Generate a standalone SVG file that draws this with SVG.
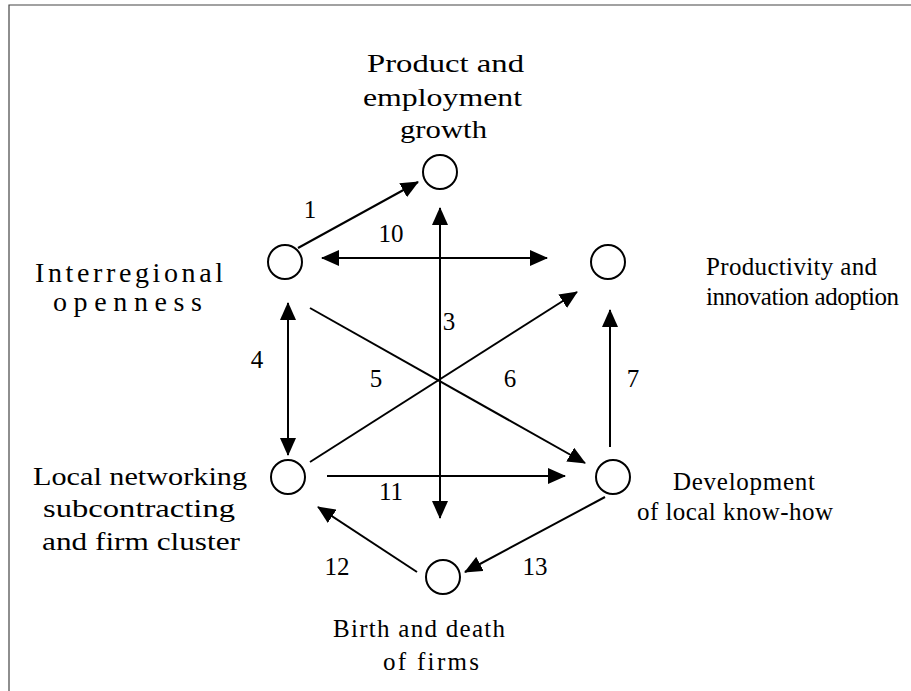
<svg xmlns="http://www.w3.org/2000/svg" width="911" height="691" viewBox="0 0 911 691">
  <style>
    .node circle { fill: #ffffff; stroke: #000000; stroke-width: 2; }
    .lbl { font-family: "Liberation Serif", "Times New Roman", serif; font-size: 25px; fill: #000000; }
    .wide { font-size: 26px; }
    .big { font-size: 28px; }
    .num { font-family: "Liberation Serif", "Times New Roman", serif; font-size: 25px; fill: #000000; text-anchor: middle; }
    .conn line { stroke: #000000; stroke-width: 2; fill: none; }
    .frame { stroke: #444444; stroke-width: 1.2; fill: none; }
  </style>
  <defs>
    <marker id="ah" markerUnits="userSpaceOnUse" markerWidth="18" markerHeight="16" refX="17" refY="8" orient="auto-start-reverse">
      <path d="M0,0 L18,8 L0,16 z" fill="#000000"/>
    </marker>
  </defs>
  <rect width="911" height="691" fill="#ffffff"/>
  <path class="frame" d="M9,691 L9,5 L911,5"/>

  <g id="connectors" class="conn">
    <line id="c1" x1="298" y1="248" x2="418" y2="182" marker-end="url(#ah)"/>
    <line id="c10" x1="322" y1="258" x2="547" y2="258" marker-start="url(#ah)" marker-end="url(#ah)"/>
    <line id="c3" x1="440" y1="208" x2="440" y2="518" marker-start="url(#ah)" marker-end="url(#ah)"/>
    <line id="c4" x1="288" y1="303" x2="288" y2="455" marker-start="url(#ah)" marker-end="url(#ah)"/>
    <line id="c5" x1="310" y1="462" x2="577" y2="292" marker-end="url(#ah)"/>
    <line id="c6" x1="310" y1="308" x2="585" y2="463" marker-end="url(#ah)"/>
    <line id="c7" x1="610" y1="447" x2="610" y2="310" marker-end="url(#ah)"/>
    <line id="c11" x1="327" y1="476" x2="565" y2="476" marker-end="url(#ah)"/>
    <line id="c12" x1="417" y1="572" x2="318" y2="507" marker-end="url(#ah)"/>
    <line id="c13" x1="605" y1="497" x2="465" y2="572" marker-end="url(#ah)"/>
    <text class="num" x="310" y="218">1</text>
    <text class="num" x="391" y="242">10</text>
    <text class="num" x="449" y="330">3</text>
    <text class="num" x="257" y="368">4</text>
    <text class="num" x="376" y="387">5</text>
    <text class="num" x="510" y="387">6</text>
    <text class="num" x="633" y="387">7</text>
    <text class="num" x="391" y="500">11</text>
    <text class="num" x="337" y="575">12</text>
    <text class="num" x="535" y="575">13</text>
  </g>

  <g id="n-product" class="node">
    <circle cx="440" cy="172" r="17"/>
    <text class="lbl wide" x="367" y="72" textLength="157" lengthAdjust="spacingAndGlyphs">Product  and</text>
    <text class="lbl wide" x="363" y="106" textLength="159" lengthAdjust="spacingAndGlyphs">employment</text>
    <text class="lbl wide" x="400" y="138" textLength="87" lengthAdjust="spacingAndGlyphs">growth</text>
  </g>
  <g id="n-interregional" class="node">
    <circle cx="285" cy="262" r="17"/>
    <text class="lbl big" x="35" y="282" textLength="188" lengthAdjust="spacing">Interregional</text>
    <text class="lbl big" x="53" y="311" textLength="149" lengthAdjust="spacing">openness</text>
  </g>
  <g id="n-productivity" class="node">
    <circle cx="608" cy="262" r="17"/>
    <text class="lbl" x="706" y="275" textLength="171" lengthAdjust="spacing">Productivity and</text>
    <text class="lbl" x="706" y="305" textLength="193" lengthAdjust="spacing">innovation adoption</text>
  </g>
  <g id="n-local" class="node">
    <circle cx="288" cy="477" r="17"/>
    <text class="lbl wide" x="33" y="485" textLength="214" lengthAdjust="spacingAndGlyphs">Local networking</text>
    <text class="lbl wide" x="43" y="517" textLength="192" lengthAdjust="spacingAndGlyphs">subcontracting</text>
    <text class="lbl wide" x="42" y="550" textLength="198" lengthAdjust="spacingAndGlyphs">and  firm cluster</text>
  </g>
  <g id="n-development" class="node">
    <circle cx="613" cy="477" r="17"/>
    <text class="lbl" x="673" y="490" textLength="142" lengthAdjust="spacing">Development</text>
    <text class="lbl" x="637" y="520" textLength="196" lengthAdjust="spacing">of local know-how</text>
  </g>
  <g id="n-birth" class="node">
    <circle cx="443" cy="577" r="17"/>
    <text class="lbl" x="333" y="637" textLength="172" lengthAdjust="spacing">Birth and death</text>
    <text class="lbl" x="383" y="670" textLength="96" lengthAdjust="spacing">of  firms</text>
  </g>
</svg>
